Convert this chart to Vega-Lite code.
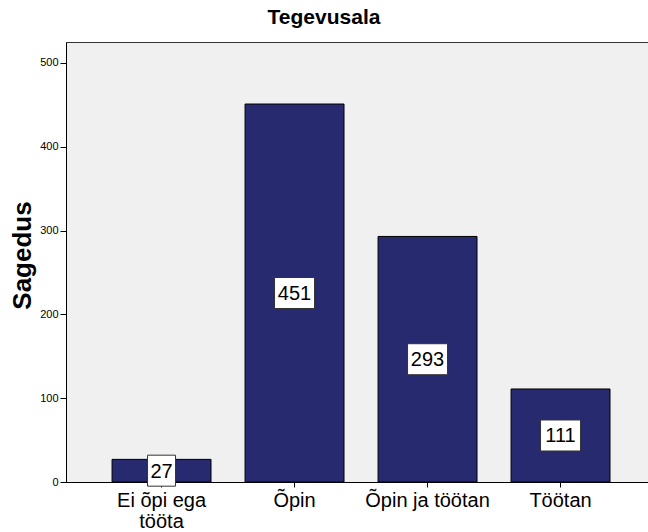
{
  "$schema": "https://vega.github.io/schema/vega-lite/v6.json",
  "autosize": "none",
  "width": 582,
  "height": 440,
  "padding": {"left": 66, "top": 42, "right": 0, "bottom": 50},
  "background": "white",
  "config": {
    "font": "Liberation Sans",
    "view": {"fill": "#F0F0F0", "stroke": "#333333", "strokeWidth": 1}
  },
  "title": {
    "text": "Tegevusala",
    "fontSize": 21,
    "fontWeight": "bold",
    "font": "Liberation Sans",
    "color": "black",
    "anchor": "middle",
    "dx": -33,
    "offset": 14
  },
  "data": {
    "values": [
      {"Tegevusala": "Ei õpi ega tööta", "Sagedus": 27},
      {"Tegevusala": "Õpin", "Sagedus": 451},
      {"Tegevusala": "Õpin ja töötan", "Sagedus": 293},
      {"Tegevusala": "Töötan", "Sagedus": 111}
    ]
  },
  "transform": [{"calculate": "datum.Sagedus / 2", "as": "mid"}],
  "encoding": {
    "x": {
      "field": "Tegevusala",
      "type": "nominal",
      "sort": null,
      "scale": {"paddingInner": 0.256, "paddingOuter": 0.316, "align": 0.548},
      "axis": {
        "title": null,
        "labelAngle": 0,
        "labelFontSize": 20,
        "labelColor": "black",
        "labelPadding": 3,
        "labelLineHeight": 21,
        "labelExpr": "datum.value == 'Ei õpi ega tööta' ? ['Ei õpi ega', 'tööta'] : datum.label",
        "domainColor": "black",
        "domainWidth": 1,
        "tickColor": "black",
        "tickSize": 5,
        "labelBaseline": "top"
      }
    }
  },
  "layer": [
    {
      "mark": {"type": "bar", "color": "#272A6F", "stroke": "black", "strokeWidth": 1},
      "encoding": {
        "y": {
          "field": "Sagedus",
          "type": "quantitative",
          "scale": {"domain": [0, 525], "nice": false},
          "axis": {
            "title": "Sagedus",
            "titleFontSize": 26,
            "titleFontWeight": "bold",
            "titleColor": "black",
            "titleAngle": -90,
            "titleX": -44,
            "titleY": 213,
            "titleAlign": "center",
            "titleBaseline": "middle",
            "values": [0, 100, 200, 300, 400, 500],
            "grid": false,
            "labelFontSize": 11,
            "labelColor": "black",
            "labelPadding": 2,
            "tickSize": 6,
            "tickColor": "black",
            "domainColor": "black"
          }
        }
      }
    },
    {
      "transform": [{"filter": "datum.Sagedus >= 100"}],
      "mark": {"type": "rect", "width": 40, "height": 31, "fill": "white", "stroke": "#333333", "strokeWidth": 1},
      "encoding": {"y": {"field": "mid", "type": "quantitative"}}
    },
    {
      "transform": [{"filter": "datum.Sagedus < 100"}],
      "mark": {"type": "rect", "width": 28, "height": 31, "fill": "white", "stroke": "#333333", "strokeWidth": 1},
      "encoding": {"y": {"field": "mid", "type": "quantitative"}}
    },
    {
      "mark": {"type": "text", "fontSize": 20, "color": "black", "baseline": "middle", "align": "center", "dy": 1},
      "encoding": {
        "y": {"field": "mid", "type": "quantitative"},
        "text": {"field": "Sagedus", "type": "quantitative"}
      }
    }
  ]
}
